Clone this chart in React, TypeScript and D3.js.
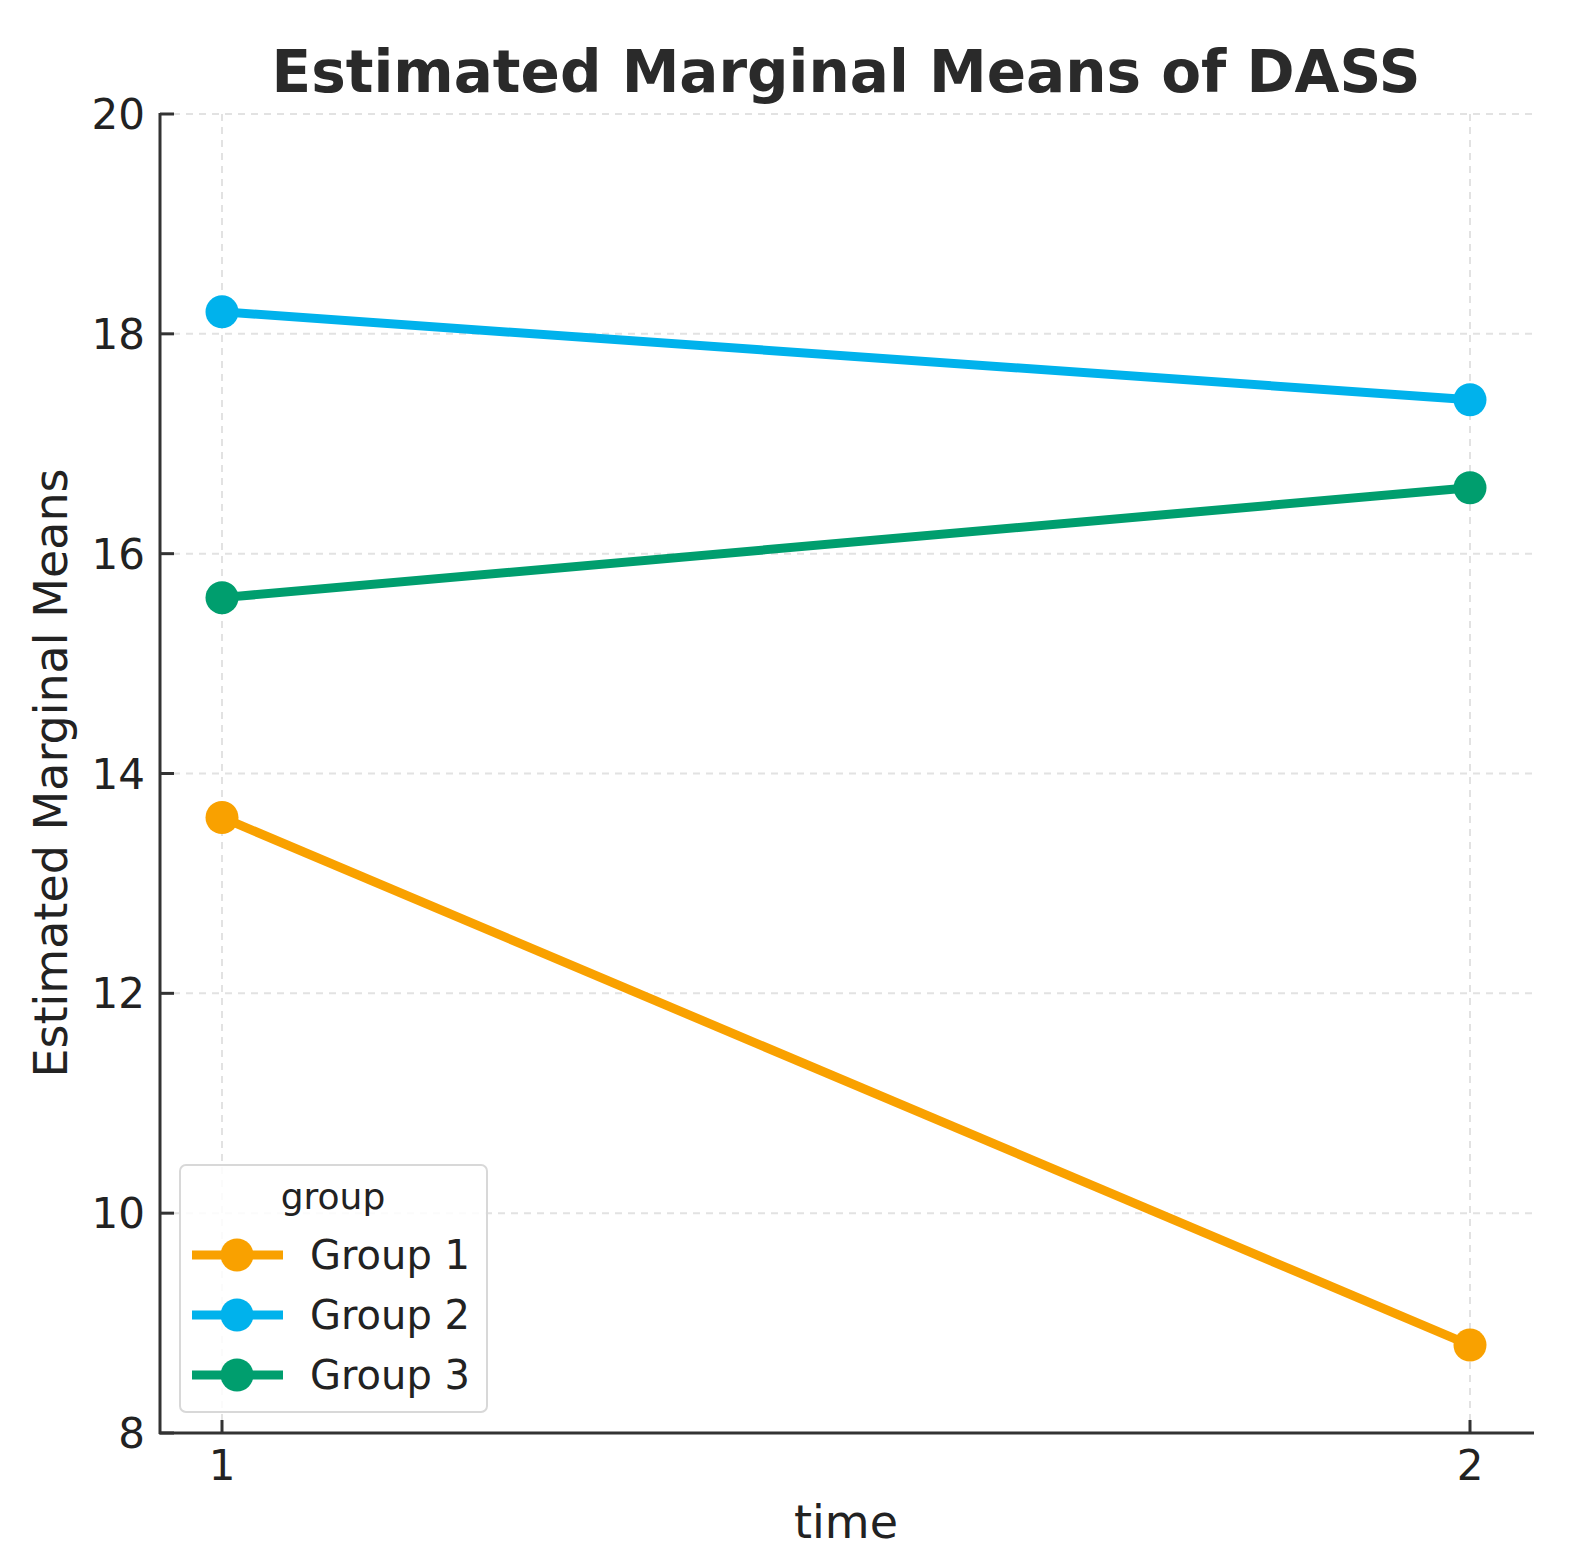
import React, { useEffect } from "react";
import * as d3 from "d3";

const times = [1, 2];
const groupNames = ["Group 1", "Group 2", "Group 3"];
const group1 = [13.6, 8.8];
const group2 = [18.2, 17.4];
const group3 = [15.6, 16.6];
const groupColors = ["#F9A100", "#00B2EC", "#009E6E"];
const yTicks = [8, 10, 12, 14, 16, 18, 20];
const xTicks = [1, 2];

export default function App() {
  useEffect(() => {
    document.body.style.margin = "0";
    document.body.style.overflow = "hidden";
  }, []);
  const W = 1574, H = 1565;
  const x = d3.scaleLinear().domain([1, 2]).range([222, 1470]);
  const y = d3.scaleLinear().domain([8, 20]).range([1433, 114]);
  const series = [group1, group2, group3];
  const line = d3.line<number>().x((_, i) => x(times[i])).y((d) => y(d));
  const font = "DejaVu Sans, sans-serif";
  const txt = "#222";
  return (
    <svg width={W} height={H} style={{ position: "absolute", left: 0, top: 0, display: "block" }} fontFamily={font}>
      <rect width={W} height={H} fill="#fff" />
      {yTicks.map((t) => (
        <line key={"gy" + t} x1={160} x2={1534} y1={y(t)} y2={y(t)} stroke="#e2e2e2" strokeWidth={2} strokeDasharray="7,6" />
      ))}
      {xTicks.map((t) => (
        <line key={"gx" + t} x1={x(t)} x2={x(t)} y1={114} y2={1433} stroke="#e2e2e2" strokeWidth={2} strokeDasharray="7,6" />
      ))}
      <line x1={160} x2={160} y1={113} y2={1434} stroke="#333" strokeWidth={3} />
      <line x1={159} x2={1534} y1={1433} y2={1433} stroke="#333" strokeWidth={3} />
      {yTicks.map((t) => (
        <g key={"ty" + t}>
          <line x1={160} x2={174} y1={y(t)} y2={y(t)} stroke="#333" strokeWidth={3} />
          <text x={145} y={y(t)} dy="0.36em" textAnchor="end" fontSize={42} fill={txt}>{t}</text>
        </g>
      ))}
      {xTicks.map((t) => (
        <g key={"tx" + t}>
          <line x1={x(t)} x2={x(t)} y1={1433} y2={1420} stroke="#333" strokeWidth={3} />
          <text x={x(t)} y={1480} textAnchor="middle" fontSize={42} fill={txt}>{t}</text>
        </g>
      ))}
      {series.map((s, gi) => (
        <g key={"s" + gi}>
          <path d={line(s) || ""} fill="none" stroke={groupColors[gi]} strokeWidth={9} />
          {s.map((v, i) => (
            <circle key={i} cx={x(times[i])} cy={y(v)} r={16.5} fill={groupColors[gi]} />
          ))}
        </g>
      ))}
      <text x={846} y={92} textAnchor="middle" fontSize={58} fontWeight="bold" fill="#2a2a2a">Estimated Marginal Means of DASS</text>
      <text x={846} y={1538} textAnchor="middle" fontSize={46} fill={txt}>time</text>
      <text transform="translate(67,773) rotate(-90)" textAnchor="middle" fontSize={46} fill={txt}>Estimated Marginal Means</text>
      <g>
        <rect x={180} y={1165} width={307} height={247} rx={6} fill="#fff" fillOpacity={0.85} stroke="#d8d8d8" strokeWidth={2} />
        <text x={333} y={1209} textAnchor="middle" fontSize={36} fill={txt}>group</text>
        {groupNames.map((g, i) => {
          const cy = 1255 + i * 60;
          return (
            <g key={g}>
              <line x1={192} x2={283} y1={cy} y2={cy} stroke={groupColors[i]} strokeWidth={9} />
              <circle cx={237} cy={cy} r={16.5} fill={groupColors[i]} />
              <text x={310} y={cy} dy="0.36em" fontSize={40} fill={txt}>{g}</text>
            </g>
          );
        })}
      </g>
    </svg>
  );
}
